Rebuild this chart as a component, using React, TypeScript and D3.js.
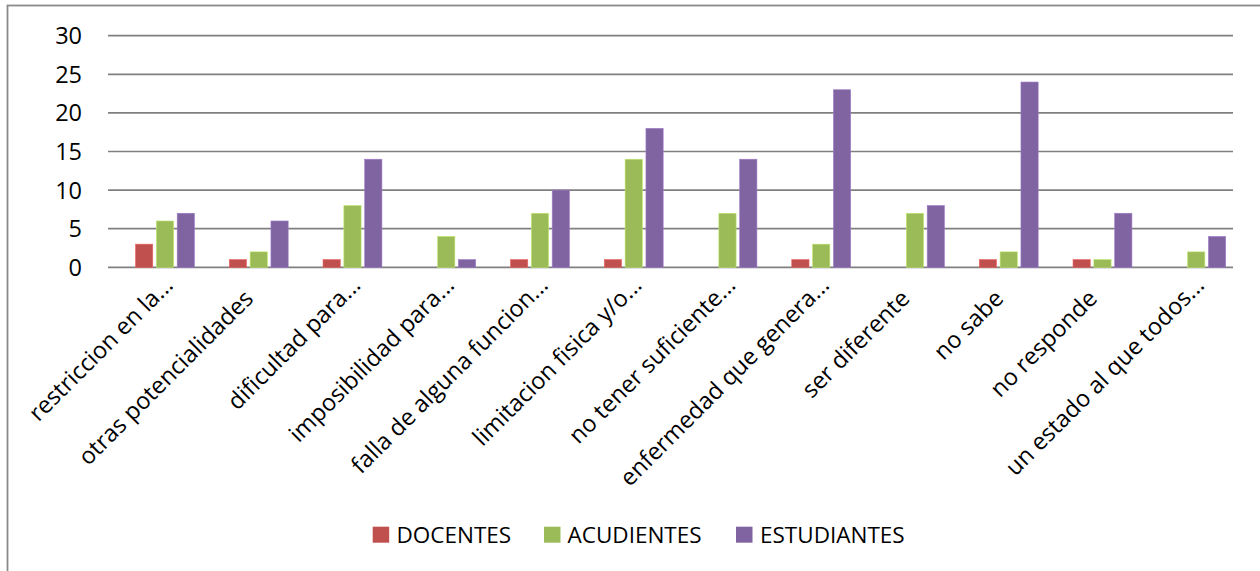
import React from "react";
import * as d3 from "d3";

const categories = [
  "restriccion en la...",
  "otras potencialidades",
  "dificultad para...",
  "imposibilidad para...",
  "falla de alguna funcion...",
  "limitacion fisica y/o...",
  "no tener suficiente...",
  "enfermedad que genera...",
  "ser diferente",
  "no sabe",
  "no responde",
  "un estado al que todos...",
];

const seriesNames = ["DOCENTES", "ACUDIENTES", "ESTUDIANTES"];
const docentes = [3, 1, 1, 0, 1, 1, 0, 1, 0, 1, 1, 0];
const acudientes = [6, 2, 8, 4, 7, 14, 7, 3, 7, 2, 1, 2];
const estudiantes = [7, 6, 14, 1, 10, 18, 14, 23, 8, 24, 7, 4];
const yTicks = [0, 5, 10, 15, 20, 25, 30];
const colors = ["#C0504D", "#9BBB59", "#8064A2"];

const W = 1260;
const H = 571;
const FONT = "'Open Sans', Calibri, sans-serif";

export default function App() {
  const seriesValues = [docentes, acudientes, estudiantes];
  const x = d3.scaleBand<string>().domain(categories).range([118.1, 1243.1]).paddingInner(0).paddingOuter(0);
  const groupW = x.bandwidth() * (3 / 4.5);
  const xs = d3
    .scaleBand<string>()
    .domain(seriesNames)
    .range([0, groupW]);
  const y = d3.scaleLinear().domain([0, 30]).range([267.3, 35.7]);
  const gridX0 = 108;
  const gridX1 = 1233;
  const barInset = 1.8;

  const legendItems = [
    { sx: 372.7, tx: 396.5 },
    { sx: 544, tx: 567.5 },
    { sx: 736, tx: 760 },
  ];

  return (
    <svg
      width={W}
      height={H}
      style={{ position: "absolute", left: 0, top: 0, display: "block", background: "#fff" }}
      fontFamily={FONT}
    >
      <rect x={0} y={0} width={W} height={H} fill="#fff" />
      <rect x={7.5} y={5.5} width={W + 20} height={H + 20} fill="none" stroke="#8a8a8a" strokeWidth={1.8} />
      {yTicks.map((t) => (
        <g key={t}>
          <line x1={gridX0} x2={gridX1} y1={y(t)} y2={y(t)} stroke="#808080" strokeWidth={1.7} />
          <text x={82} y={y(t)} dy="0.36em" textAnchor="end" fontSize={23.5} fill="#000">
            {t}
          </text>
        </g>
      ))}
      {categories.map((c, i) => {
        const gx = (x(c) as number) + (x.bandwidth() - groupW) / 2;
        return (
          <g key={c}>
            {seriesNames.map((s, k) => {
              const v = seriesValues[k][i];
              if (v <= 0) return null;
              const bx = gx + (xs(s) as number) + barInset;
              const bw = xs.bandwidth() - 2 * barInset;
              return (
                <rect
                  key={s}
                  x={bx}
                  y={y(v)}
                  width={bw}
                  height={y(0) - y(v)}
                  fill={colors[k]}
                  stroke={d3.color(colors[k])!.brighter(0.6).formatHex()}
                  strokeWidth={0.6}
                />
              );
            })}
          </g>
        );
      })}
      {categories.map((c) => {
        const cx = (x(c) as number) + x.bandwidth() / 2;
        const trunc = c.endsWith("...");
        return (
          <text
            key={"l" + c}
            transform={`translate(${cx - 4},${300}) rotate(-45)`}
            dx={trunc ? 19 : 0}
            textAnchor="end"
            fontSize={23.5}
            fill="#000"
          >
            {c}
          </text>
        );
      })}
      {seriesNames.map((s, k) => (
        <g key={"lg" + s}>
          <rect x={legendItems[k].sx} y={526.7} width={16.5} height={16} fill={colors[k]} />
          <text x={legendItems[k].tx} y={542.5} fontSize={22.5} fill="#000">
            {s}
          </text>
        </g>
      ))}
    </svg>
  );
}
